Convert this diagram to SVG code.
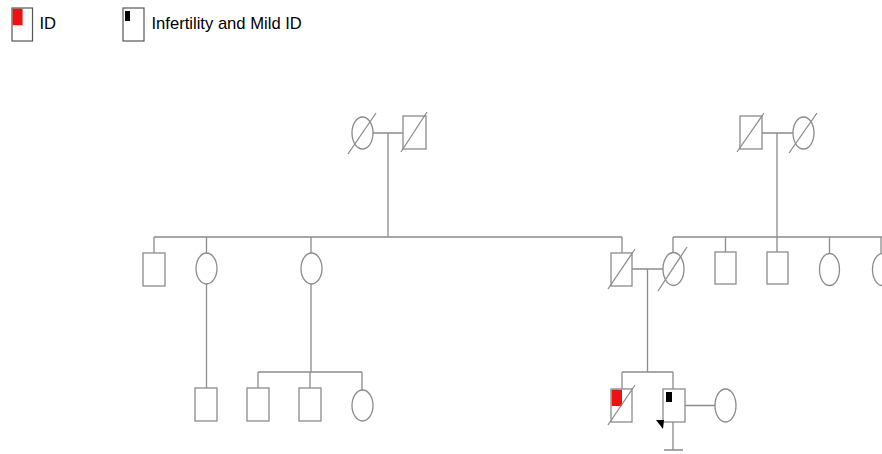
<svg xmlns="http://www.w3.org/2000/svg" width="882" height="454" viewBox="0 0 882 454">
<style>
.s{fill:#fff;stroke:#8c8c8c;stroke-width:1.3}
.l{fill:none;stroke:#8c8c8c;stroke-width:1.3}
.lg{fill:#fff;stroke:#555;stroke-width:1.2}
.t{font-family:"Liberation Sans",Arial,sans-serif;font-size:16.6px;fill:#000}
</style>
<rect width="882" height="454" fill="#fff"/>
<g id="legend">
<g id="legend-id">
<rect class="lg" x="12" y="8" width="20.5" height="33"/>
<rect x="12.6" y="8.6" width="10" height="16.5" fill="#ee1111"/>
<text class="t" x="39.5" y="29">ID</text>
</g>
<g id="legend-inf">
<rect class="lg" x="123" y="8" width="21" height="33"/>
<rect x="125" y="11" width="5" height="10" fill="#000"/>
<text class="t" x="151.5" y="29">Infertility and Mild ID</text>
</g>
</g>
<g id="connectors">
<path class="l" d="M373 133H403M388 133V237M154 237H622M154 237V253M206.5 237V253M311 237V253M622 237V253"/>
<path class="l" d="M762 133H793M777 133V237M673 237H882M673 237V252M725.5 237V252M777 237V252M829.5 237V253M881 237V253"/>
<path class="l" d="M206.5 284V388"/>
<path class="l" d="M311 284V372M258 372H362M258 372V388M310 372V388M362 372V390"/>
<path class="l" d="M632 269H663M647.5 269V372M622 372H673M622 372V389M673 372V389"/>
<path class="l" d="M685 405.5H715M673 422V450M664 450H683"/>
</g>
<g id="gp1-f"><ellipse class="s" cx="362.5" cy="133" rx="10.5" ry="16"/><line class="l" x1="348" y1="154" x2="376" y2="113"/></g>
<g id="gp1-m"><rect class="s" x="403" y="116" width="23" height="33"/><line class="l" x1="401" y1="152" x2="427" y2="112"/></g>
<g id="gp2-m"><rect class="s" x="740" y="116" width="22" height="33"/><line class="l" x1="737" y1="152" x2="764" y2="113"/></g>
<g id="gp2-f"><ellipse class="s" cx="803.5" cy="133" rx="10.5" ry="16"/><line class="l" x1="789" y1="153" x2="817" y2="113"/></g>
<g id="g2-1"><rect class="s" x="143" y="253" width="22" height="33"/></g>
<g id="g2-2"><ellipse class="s" cx="206.5" cy="268.5" rx="10.5" ry="15.5"/></g>
<g id="g2-3"><ellipse class="s" cx="311.5" cy="268.5" rx="10.5" ry="15.5"/></g>
<g id="g2-father"><rect class="s" x="611" y="253" width="21" height="33"/><line class="l" x1="608" y1="289" x2="635" y2="249"/></g>
<g id="g2-mother"><ellipse class="s" cx="673.5" cy="269" rx="10.5" ry="16.5"/><line class="l" x1="658" y1="291" x2="687" y2="247"/></g>
<g id="g2-r1"><rect class="s" x="715" y="252" width="21" height="32"/></g>
<g id="g2-r2"><rect class="s" x="767" y="252" width="21" height="32"/></g>
<g id="g2-r3"><ellipse class="s" cx="829.5" cy="269.5" rx="10" ry="16"/></g>
<g id="g2-r4"><ellipse class="s" cx="882.5" cy="269.5" rx="10" ry="16"/></g>
<g id="g3-1"><rect class="s" x="195" y="388" width="22" height="33"/></g>
<g id="g3-2"><rect class="s" x="247" y="388" width="22" height="33"/></g>
<g id="g3-3"><rect class="s" x="299" y="388" width="22" height="33"/></g>
<g id="g3-4"><ellipse class="s" cx="362.5" cy="405.5" rx="10.5" ry="15.5"/></g>
<g id="g3-affected"><rect class="s" x="611" y="389" width="21" height="33"/><rect x="611.7" y="389.7" width="10.3" height="16.3" fill="#ee1111"/><line class="l" x1="608" y1="425" x2="635" y2="385"/></g>
<g id="g3-proband"><rect class="s" x="663" y="389" width="22" height="33"/><rect x="666" y="392" width="6" height="10" fill="#000"/><polygon points="656,420 664,420 663,429" fill="#000"/></g>
<g id="g3-spouse"><ellipse class="s" cx="725.5" cy="405.5" rx="10.5" ry="16.5"/></g>
</svg>
